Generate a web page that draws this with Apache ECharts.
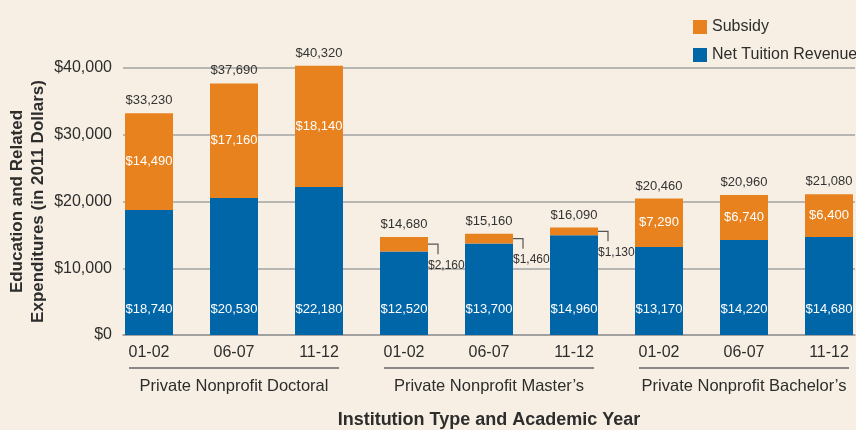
<!DOCTYPE html>
<html>
<head>
<meta charset="utf-8">
<script src="https://cdn.jsdelivr.net/npm/echarts@6/dist/echarts.min.js"></script>
<style>
html,body{margin:0;padding:0;background:#F7EFE3;}
#chart{width:856px;height:430px;}
</style>
</head>
<body>
<div id="chart"></div>
<script>
const years = ['01-02','06-07','11-12','01-02','06-07','11-12','01-02','06-07','11-12'];
const groups = ['Private Nonprofit Doctoral','Private Nonprofit Master\u2019s','Private Nonprofit Bachelor\u2019s'];
const groupSpans = [[0,2],[3,5],[6,8]];
const netTuition = [18740,20530,22180,12520,13700,14960,13170,14220,14680];
const subsidy = [14490,17160,18140,2160,1460,1130,7290,6740,6400];
const totals = [33230,37690,40320,14680,15160,16090,20460,20960,21080];

const ORANGE = '#E8821E';
const BLUE = '#0066A8';
const FONT = "'Liberation Sans',Arial,sans-serif";
const BAR_W = 48;
const fmt = v => '$' + Number(v).toLocaleString('en-US');

const chart = echarts.init(document.getElementById('chart'));
chart.setOption({
  backgroundColor: '#F7EFE3',
  animation: false,
  legend: {
    orient: 'vertical', left: 688, top: 14,
    itemWidth: 14, itemHeight: 14, itemGap: 12,
    icon: 'rect',
    data: ['Subsidy','Net Tuition Revenue'],
    textStyle: {fontFamily: FONT, fontSize: 16, color: '#2d2d2d'}
  },
  grid: [
    {left: 106.5, width: 765, top: 68, height: 267, outerBoundsMode: 'none', containLabel: false},
    {left: 123, width: 732, top: 68, height: 267, outerBoundsMode: 'none', containLabel: false}
  ],
  xAxis: [
    {type: 'category', gridIndex: 0, data: years,
     axisLine: {show: false}, axisTick: {show: false},
     axisLabel: {interval: 0, fontFamily: FONT, fontSize: 16, color: '#2d2d2d', margin: 10}},
    {type: 'category', gridIndex: 0, data: groups, position: 'bottom',
     axisLine: {show: false}, axisTick: {show: false},
     axisLabel: {interval: 0, hideOverlap: false, fontFamily: FONT, fontSize: 16.5, color: '#2d2d2d', margin: 43}},
    {type: 'category', gridIndex: 1, data: years,
     axisLine: {show: true, lineStyle: {color: '#9a9a9a', width: 1.5}},
     axisTick: {show: false}, axisLabel: {show: false},
     name: 'Institution Type and Academic Year', nameLocation: 'middle', nameGap: 76, nameMoveOverlap: false,
     nameTextStyle: {fontFamily: FONT, fontWeight: 'bold', fontSize: 18, color: '#2d2d2d'}}
  ],
  yAxis: [
    {type: 'value', gridIndex: 0, min: 0, max: 40000, interval: 10000, show: false},
    {type: 'value', gridIndex: 1, min: 0, max: 40000, interval: 10000,
     axisLine: {show: false}, axisTick: {show: false},
     splitLine: {lineStyle: {color: '#a3a3a3', width: 1.5}},
     axisLabel: {fontFamily: FONT, fontSize: 16, color: '#2d2d2d', margin: 11, formatter: fmt},
     name: 'Education and Related\nExpenditures (in 2011 Dollars)',
     nameLocation: 'middle', nameRotate: 90, nameGap: 74, nameMoveOverlap: false,
     nameTextStyle: {fontFamily: FONT, fontWeight: 'bold', fontSize: 17, lineHeight: 21, color: '#2d2d2d'}}
  ],
  series: [
    {name: 'Net Tuition Revenue', type: 'bar', stack: 'a', xAxisIndex: 0, yAxisIndex: 0,
     barWidth: BAR_W, clip: false, data: netTuition,
     itemStyle: {color: BLUE},
     label: {show: true, position: 'insideBottom', distance: 19, formatter: p => fmt(p.value),
       fontFamily: FONT, fontSize: 13, color: '#fff'}},
    {name: 'Subsidy', type: 'bar', stack: 'a', xAxisIndex: 0, yAxisIndex: 0,
     barWidth: BAR_W, clip: false, data: subsidy,
     itemStyle: {color: ORANGE},
     label: {show: true, position: 'inside', formatter: p => p.value < 3000 ? '' : fmt(p.value),
       fontFamily: FONT, fontSize: 13, color: '#fff'}},
    {type: 'custom', xAxisIndex: 0, yAxisIndex: 0, silent: true,
     data: totals.map((t, i) => [i, t]),
     renderItem: (params, api) => {
       const p = api.coord([api.value(0), api.value(1)]);
       return {type: 'text', style: {x: p[0], y: p[1] - 6, text: fmt(api.value(1)),
         align: 'center', verticalAlign: 'bottom', fontFamily: FONT, fontSize: 13, fill: '#333'}};
     }},
    {type: 'custom', xAxisIndex: 0, yAxisIndex: 0, silent: true,
     data: subsidy.map((s, i) => [i, netTuition[i], s]).filter(d => d[2] < 3000),
     renderItem: (params, api) => {
       const i = api.value(0), base = api.value(1), s = api.value(2);
       const pb = api.coord([i, base]);
       const pt = api.coord([i, base + s]);
       const xr = pb[0] + BAR_W / 2;
       const ym = (pb[1] + pt[1]) / 2;
       return {type: 'group', children: [
         {type: 'polyline', shape: {points: [[xr, ym], [xr + 10, ym], [xr + 10, ym + 10]]},
          style: {stroke: '#555', lineWidth: 1.2, fill: null}},
         {type: 'text', style: {x: xr, y: ym + 21, text: fmt(s), align: 'left', verticalAlign: 'middle',
          fontFamily: FONT, fontSize: 12, fill: '#333'}}
       ]};
     }},
    {type: 'custom', xAxisIndex: 0, yAxisIndex: 0, silent: true,
     data: groupSpans,
     renderItem: (params, api) => {
       const a = api.coord([api.value(0), 0]);
       const b = api.coord([api.value(1), 0]);
       return {type: 'line', shape: {x1: a[0] - BAR_W / 2 + 4, y1: a[1] + 33, x2: b[0] + BAR_W / 2 - 4, y2: a[1] + 33},
         style: {stroke: '#666', lineWidth: 1.5}};
     }}
  ]
});
</script>
</body>
</html>
